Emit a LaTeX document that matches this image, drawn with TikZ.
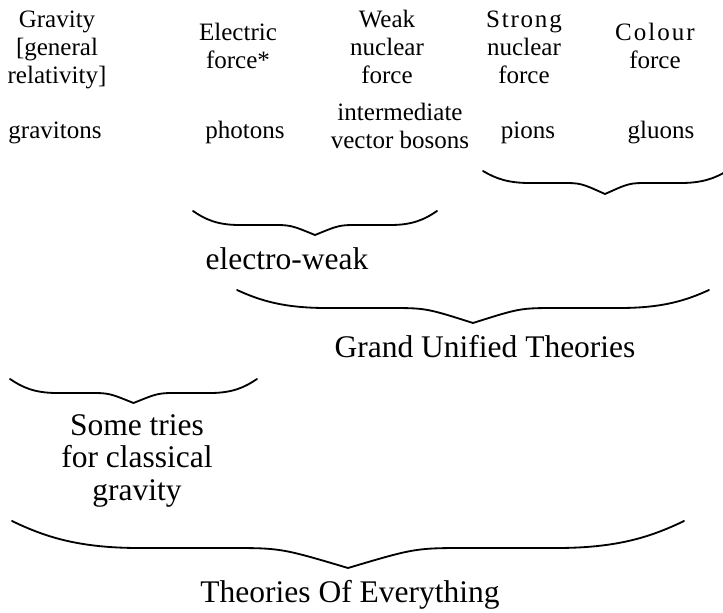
\documentclass[tikz,border=0pt]{standalone}
\usepackage{fontspec}
\setmainfont{Liberation Serif}

\newcommand{\hbrace}[5]{%
  \pgfmathsetmacro\brM{(#1+#2)/2}%
  \pgfmathsetmacro\brH{(#2-#1)/2}%
  \pgfmathsetmacro\brLa{#1+0.10*\brH}\pgfmathsetmacro\brLb{#1+0.20*\brH}%
  \pgfmathsetmacro\brLc{#1+0.38*\brH}\pgfmathsetmacro\brLd{#1+0.64*\brH}%
  \pgfmathsetmacro\brLe{#1+0.80*\brH}%
  \pgfmathsetmacro\brRa{#2-0.10*\brH}\pgfmathsetmacro\brRb{#2-0.20*\brH}%
  \pgfmathsetmacro\brRc{#2-0.38*\brH}\pgfmathsetmacro\brRd{#2-0.64*\brH}%
  \pgfmathsetmacro\brRe{#2-0.80*\brH}%
  \pgfmathsetmacro\brY{#3+0.6*(#4-#3)}%
  \draw[bracestyle] (#1,#3) .. controls (\brLa,\brY) and (\brLb,#4) .. (\brLc,#4)
    -- (\brLd,#4) .. controls (\brLe,#4) .. (\brM,#5)
    .. controls (\brRe,#4) .. (\brRd,#4) -- (\brRc,#4)
    .. controls (\brRb,#4) and (\brRa,\brY) .. (#2,#3);
}

\begin{document}
\begin{tikzpicture}[
    x=0.025cm, y=-0.025cm,
    forcelabel/.style={font=\fontsize{17.8}{19.9}\selectfont, align=center, inner sep=0pt, anchor=base},
    theorylabel/.style={font=\fontsize{22.4}{22.8}\selectfont, align=center, inner sep=0pt, anchor=base},
    bracestyle/.style={line width=1.3pt, line cap=round, line join=miter}
  ]
  \useasboundingbox (0,0) rectangle (723,612);

  \node[forcelabel] (gravity) at (57,83) {Gravity\\{}[general\\relativity]};
  \node[forcelabel] (electric) at (238,68) {Electric\\force*};
  \node[forcelabel] (weak) at (387,83) {Weak\\nuclear\\force};
  \node[forcelabel] (strong) at (524,83) {{\addfontfeature{LetterSpace=7}Strong}\\nuclear\\force};
  \node[forcelabel] (colour) at (655,68) {{\addfontfeature{LetterSpace=8}Colour}\\force};

  \node[forcelabel] (gravitons) at (55,138) {gravitons};
  \node[forcelabel] (photons) at (245,138) {photons};
  \node[forcelabel] (bosons) at (400,148) {intermediate\\vector bosons};
  \node[forcelabel] (pions) at (528,138) {pions};
  \node[forcelabel] (gluons) at (661,138) {gluons};

  \hbrace{483}{727}{171}{183}{194}
  \hbrace{193}{437}{211}{225}{235}
  \node[theorylabel] (electroweak) at (287,269) {electro-weak};

  \hbrace{237}{709}{290}{308}{323}
  \node[theorylabel] (gut) at (485,357) {Grand Unified Theories};

  \hbrace{10}{257}{379}{393}{403}
  \node[theorylabel] (classical) at (137,500) {Some tries\\for classical\\gravity};

  \hbrace{12}{684}{521}{548}{568}
  \node[theorylabel] (toe) at (350,602) {Theories Of Everything};
\end{tikzpicture}
\end{document}
